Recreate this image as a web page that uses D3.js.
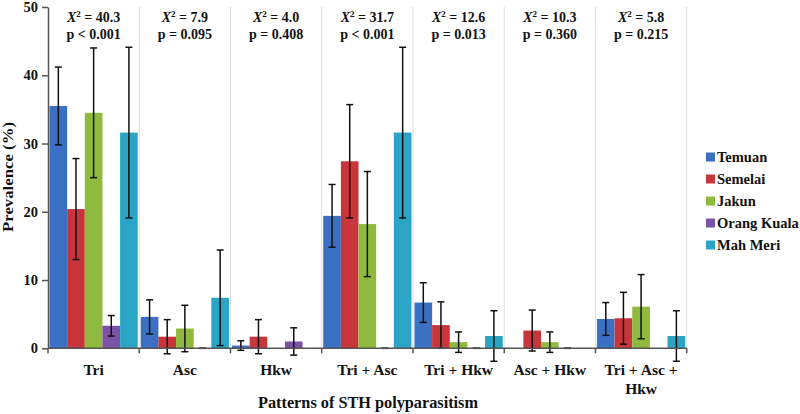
<!DOCTYPE html>
<html><head><meta charset="utf-8">
<script src="https://cdn.jsdelivr.net/npm/d3@7"></script>
<style>body{margin:0;background:#fff}svg{display:block}text{font-family:"Liberation Serif","Times New Roman",serif;font-weight:bold;fill:#111}</style>
</head><body><svg id="c" width="800" height="414"></svg>
<script>
const categories = ["Tri","Asc","Hkw","Tri + Asc","Tri + Hkw","Asc + Hkw","Tri + Asc + Hkw"];
const seriesNames = ["Temuan","Semelai","Jakun","Orang Kuala","Mah Meri"];
const colors = ["#3a6fc2","#c8353a","#8fba3d","#7b52a6","#2ba4c6"];
// prevalence values per series (one per category)
const temuan     = [35.5, 4.6, 0.4, 19.4, 6.7, 0,   4.3];
const semelai    = [20.4, 1.7, 1.7, 27.4, 3.4, 2.6, 4.4];
const jakun      = [34.5, 2.9, 0,   18.2, 0.9, 0.9, 6.1];
const orangKuala = [3.3,  0,   1.0, 0,    0,   0,   0];
const mahMeri    = [31.6, 7.4, 0,   31.6, 1.8, 0,   1.8];
// error half-widths (null = no error bar drawn)
const errTemuan     = [5.7, 2.5, 0.7, 4.6, 2.9, null, 2.4];
const errSemelai    = [7.4, 2.5, 2.5, 8.3, 3.4, 3.0, 3.8];
const errJakun      = [9.5, 3.4, null, 7.7, 1.5, 1.5, 4.7];
const errOrangKuala = [1.5, 0,   2.0, 0,   0,   0,   null];
const errMahMeri    = [12.5, 7.0, null, 12.5, 3.7, null, 3.7];
const chiSq = ["40.3","7.9","4.0","31.7","12.6","10.3","5.8"];
const pVals = ["p < 0.001","p = 0.095","p = 0.408","p < 0.001","p = 0.013","p = 0.360","p = 0.215"];
const yTicks = [0,10,20,30,40,50];

const values = [temuan, semelai, jakun, orangKuala, mahMeri];
const errs = [errTemuan, errSemelai, errJakun, errOrangKuala, errMahMeri];

const svg = d3.select("#c");
const L = 48, R = 686.7, T = 7, B = 348.3;
const x = d3.scaleBand().domain(categories).range([L, R]).paddingInner(0).paddingOuter(0);
const xs = d3.scaleBand().domain(seriesNames).range([0, x.bandwidth()]).paddingOuter(0.085).paddingInner(0);
const y = d3.scaleLinear().domain([0, 50]).range([B, T]);

// vertical dividers
const divs = categories.map(c => x(c) + x.bandwidth());
svg.append("g").selectAll("line").data(divs).join("line")
  .attr("x1", d => d).attr("x2", d => d).attr("y1", T).attr("y2", B)
  .attr("stroke", "#dcdcdc").attr("stroke-width", 1);

// bars
const g = svg.append("g");
seriesNames.forEach((s, si) => {
  g.append("g").selectAll("rect").data(categories).join("rect")
    .attr("x", c => x(c) + xs(s))
    .attr("width", xs.bandwidth())
    .attr("y", (c, i) => y(values[si][i]))
    .attr("height", (c, i) => y(0) - y(values[si][i]))
    .attr("fill", colors[si]);
});
// error bars
seriesNames.forEach((s, si) => {
  categories.forEach((c, i) => {
    const e = errs[si][i];
    if (e === null) return;
    const cx = x(c) + xs(s) + xs.bandwidth() / 2;
    const v = values[si][i];
    const eg = g.append("g").attr("stroke", "#111").attr("stroke-width", 1.5);
    eg.append("line").attr("x1", cx).attr("x2", cx).attr("y1", y(v + e)).attr("y2", y(v - e));
    eg.append("line").attr("x1", cx - 3.5).attr("x2", cx + 3.5).attr("y1", y(v + e)).attr("y2", y(v + e));
    eg.append("line").attr("x1", cx - 3.5).attr("x2", cx + 3.5).attr("y1", y(v - e)).attr("y2", y(v - e));
  });
});

// y axis
const ya = svg.append("g").attr("transform", `translate(${L},0)`)
  .call(d3.axisLeft(y).tickValues(yTicks).tickSize(6).tickPadding(4).tickSizeOuter(0));
ya.select(".domain").attr("stroke", "#555").attr("stroke-width", 1.5);
ya.selectAll(".tick line").attr("stroke", "#555").attr("stroke-width", 1.5);
ya.selectAll("text").attr("font-size", 14.5).attr("font-family", "Liberation Serif").attr("font-weight", "bold").attr("fill", "#111");

// x axis
svg.append("line").attr("x1", L).attr("x2", R).attr("y1", B).attr("y2", B).attr("stroke", "#555").attr("stroke-width", 1.5);
svg.append("g").selectAll("line").data([L].concat(divs)).join("line")
  .attr("x1", d => d).attr("x2", d => d).attr("y1", B).attr("y2", B + 5)
  .attr("stroke", "#555").attr("stroke-width", 1.5);

// category labels
const cl = svg.append("g").selectAll("text").data(categories).join("text")
  .attr("x", c => x(c) + x.bandwidth() / 2).attr("y", 375)
  .attr("text-anchor", "middle").attr("font-size", 15.5);
cl.each(function(c) {
  const t = d3.select(this);
  if (c === "Tri + Asc + Hkw") {
    t.append("tspan").attr("x", x(c) + x.bandwidth() / 2).text("Tri + Asc +");
    t.append("tspan").attr("x", x(c) + x.bandwidth() / 2).attr("dy", 18.5).text("Hkw");
  } else t.text(c);
});

// stats labels
categories.forEach((c, i) => {
  const cx = x(c) + x.bandwidth() / 2;
  const t = svg.append("text").attr("x", cx).attr("y", 22).attr("text-anchor", "middle").attr("font-size", 14);
  t.append("tspan").attr("font-style", "italic").text("X");
  t.append("tspan").attr("font-size", 9).attr("dy", -5).text("2");
  t.append("tspan").attr("dy", 5).text(" = " + chiSq[i]);
  svg.append("text").attr("x", cx).attr("y", 39).attr("text-anchor", "middle").attr("font-size", 14).text(pVals[i]);
});

// axis titles
svg.append("text").attr("transform", `translate(13,177) rotate(-90)`)
  .attr("text-anchor", "middle").attr("font-size", 15.5)
  .attr("textLength", 110).attr("lengthAdjust", "spacingAndGlyphs").text("Prevalence (%)");
svg.append("text").attr("x", 368).attr("y", 408).attr("text-anchor", "middle").attr("font-size", 16)
  .attr("textLength", 220).attr("lengthAdjust", "spacingAndGlyphs")
  .text("Patterns of STH polyparasitism");

// legend
const lg = svg.append("g").selectAll("g").data(seriesNames).join("g")
  .attr("transform", (d, i) => `translate(706,${157 + i * 22})`);
lg.append("rect").attr("x", 0).attr("y", -4.5).attr("width", 9).attr("height", 9).attr("fill", (d, i) => colors[i]);
lg.append("text").attr("x", 11).attr("y", 5).attr("font-size", 14.5).text(d => d);
</script></body></html>
